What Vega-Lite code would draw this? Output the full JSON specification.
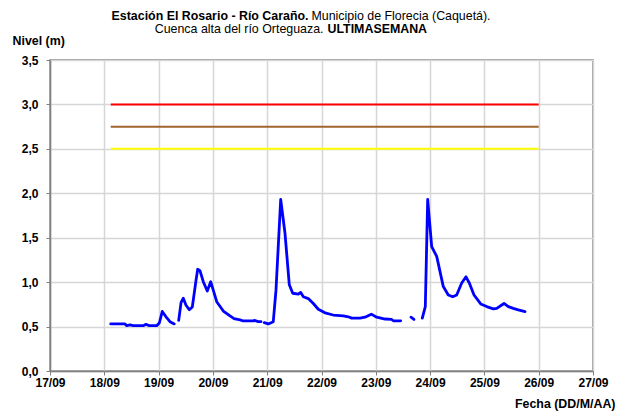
{
  "$schema": "https://vega.github.io/schema/vega-lite/v6.json",
  "width": 543,
  "height": 311,
  "autosize": "none",
  "padding": {"left": 50, "top": 60, "right": 34, "bottom": 44},
  "background": "white",
  "config": {
    "font": "Liberation Sans",
    "view": {"stroke": "#808080", "strokeWidth": 1.5},
    "axis": {"titleColor": "black", "labelColor": "black", "titleFontSize": 12.4, "labelFontSize": 12}
  },
  "datasets": {
    "nivel": [
      {"t": "2011-09-18T02:50", "v": 0.53, "seg": 1},
      {"t": "2011-09-18T09:09", "v": 0.53, "seg": 1},
      {"t": "2011-09-18T09:55", "v": 0.51, "seg": 1},
      {"t": "2011-09-18T11:21", "v": 0.52, "seg": 1},
      {"t": "2011-09-18T12:49", "v": 0.51, "seg": 1},
      {"t": "2011-09-18T17:14", "v": 0.51, "seg": 1},
      {"t": "2011-09-18T18:26", "v": 0.525, "seg": 1},
      {"t": "2011-09-18T19:53", "v": 0.51, "seg": 1},
      {"t": "2011-09-18T23:10", "v": 0.51, "seg": 1},
      {"t": "2011-09-19T00:19", "v": 0.54, "seg": 1},
      {"t": "2011-09-19T01:38", "v": 0.67, "seg": 1},
      {"t": "2011-09-19T03:16", "v": 0.61, "seg": 1},
      {"t": "2011-09-19T05:02", "v": 0.555, "seg": 1},
      {"t": "2011-09-19T06:56", "v": 0.53, "seg": 1},
      {"t": "2011-09-19T08:53", "v": 0.57, "seg": 2},
      {"t": "2011-09-19T09:55", "v": 0.77, "seg": 2},
      {"t": "2011-09-19T10:55", "v": 0.82, "seg": 2},
      {"t": "2011-09-19T12:07", "v": 0.74, "seg": 2},
      {"t": "2011-09-19T13:34", "v": 0.69, "seg": 2},
      {"t": "2011-09-19T14:54", "v": 0.72, "seg": 2},
      {"t": "2011-09-19T16:32", "v": 1.02, "seg": 2},
      {"t": "2011-09-19T17:17", "v": 1.145, "seg": 2},
      {"t": "2011-09-19T18:17", "v": 1.13, "seg": 2},
      {"t": "2011-09-19T19:45", "v": 1.005, "seg": 2},
      {"t": "2011-09-19T21:31", "v": 0.9, "seg": 2},
      {"t": "2011-09-19T23:01", "v": 1.005, "seg": 2},
      {"t": "2011-09-20T00:10", "v": 0.91, "seg": 2},
      {"t": "2011-09-20T01:41", "v": 0.78, "seg": 2},
      {"t": "2011-09-20T04:36", "v": 0.675, "seg": 2},
      {"t": "2011-09-20T07:34", "v": 0.62, "seg": 2},
      {"t": "2011-09-20T09:20", "v": 0.59, "seg": 2},
      {"t": "2011-09-20T11:59", "v": 0.575, "seg": 2},
      {"t": "2011-09-20T13:26", "v": 0.563, "seg": 2},
      {"t": "2011-09-20T17:51", "v": 0.563, "seg": 2},
      {"t": "2011-09-20T18:17", "v": 0.57, "seg": 2},
      {"t": "2011-09-20T20:04", "v": 0.555, "seg": 2},
      {"t": "2011-09-20T21:16", "v": 0.555, "seg": 2},
      {"t": "2011-09-20T22:43", "v": 0.545, "seg": 3},
      {"t": "2011-09-21T00:29", "v": 0.53, "seg": 3},
      {"t": "2011-09-21T02:41", "v": 0.555, "seg": 3},
      {"t": "2011-09-21T03:53", "v": 0.91, "seg": 3},
      {"t": "2011-09-21T05:58", "v": 1.93, "seg": 3},
      {"t": "2011-09-21T07:52", "v": 1.55, "seg": 3},
      {"t": "2011-09-21T09:46", "v": 0.97, "seg": 3},
      {"t": "2011-09-21T11:17", "v": 0.875, "seg": 3},
      {"t": "2011-09-21T13:45", "v": 0.865, "seg": 3},
      {"t": "2011-09-21T14:48", "v": 0.885, "seg": 3},
      {"t": "2011-09-21T15:58", "v": 0.835, "seg": 3},
      {"t": "2011-09-21T18:10", "v": 0.815, "seg": 3},
      {"t": "2011-09-21T20:23", "v": 0.76, "seg": 3},
      {"t": "2011-09-21T22:35", "v": 0.695, "seg": 3},
      {"t": "2011-09-22T01:32", "v": 0.655, "seg": 3},
      {"t": "2011-09-22T05:12", "v": 0.63, "seg": 3},
      {"t": "2011-09-22T09:37", "v": 0.62, "seg": 3},
      {"t": "2011-09-22T11:51", "v": 0.61, "seg": 3},
      {"t": "2011-09-22T13:20", "v": 0.595, "seg": 3},
      {"t": "2011-09-22T17:01", "v": 0.595, "seg": 3},
      {"t": "2011-09-22T19:14", "v": 0.605, "seg": 3},
      {"t": "2011-09-22T22:00", "v": 0.64, "seg": 3},
      {"t": "2011-09-23T00:24", "v": 0.605, "seg": 3},
      {"t": "2011-09-23T04:04", "v": 0.585, "seg": 3},
      {"t": "2011-09-23T07:02", "v": 0.58, "seg": 3},
      {"t": "2011-09-23T07:44", "v": 0.565, "seg": 3},
      {"t": "2011-09-23T11:00", "v": 0.565, "seg": 3},
      {"t": "2011-09-23T15:33", "v": 0.605, "seg": 4},
      {"t": "2011-09-23T16:52", "v": 0.58, "seg": 4},
      {"t": "2011-09-23T20:33", "v": 0.595, "seg": 5},
      {"t": "2011-09-23T21:53", "v": 0.725, "seg": 5},
      {"t": "2011-09-23T22:56", "v": 1.93, "seg": 5},
      {"t": "2011-09-24T00:42", "v": 1.4, "seg": 5},
      {"t": "2011-09-24T02:55", "v": 1.29, "seg": 5},
      {"t": "2011-09-24T05:50", "v": 0.95, "seg": 5},
      {"t": "2011-09-24T08:02", "v": 0.855, "seg": 5},
      {"t": "2011-09-24T09:59", "v": 0.835, "seg": 5},
      {"t": "2011-09-24T11:45", "v": 0.855, "seg": 5},
      {"t": "2011-09-24T13:58", "v": 0.99, "seg": 5},
      {"t": "2011-09-24T15:52", "v": 1.06, "seg": 5},
      {"t": "2011-09-24T17:20", "v": 0.99, "seg": 5},
      {"t": "2011-09-24T19:25", "v": 0.855, "seg": 5},
      {"t": "2011-09-24T22:22", "v": 0.755, "seg": 5},
      {"t": "2011-09-25T01:00", "v": 0.725, "seg": 5},
      {"t": "2011-09-25T03:56", "v": 0.7, "seg": 5},
      {"t": "2011-09-25T05:27", "v": 0.705, "seg": 5},
      {"t": "2011-09-25T08:40", "v": 0.76, "seg": 5},
      {"t": "2011-09-25T10:34", "v": 0.725, "seg": 5},
      {"t": "2011-09-25T12:46", "v": 0.705, "seg": 5},
      {"t": "2011-09-25T14:58", "v": 0.687, "seg": 5},
      {"t": "2011-09-25T17:57", "v": 0.668, "seg": 5}
    ],
    "umbral": [
      {"nombre": "rojo", "v": 3.0, "desde": "2011-09-18T02:50", "hasta": "2011-09-26T00:00"},
      {"nombre": "naranja", "v": 2.75, "desde": "2011-09-18T02:50", "hasta": "2011-09-26T00:00"},
      {"nombre": "amarillo", "v": 2.5, "desde": "2011-09-18T02:50", "hasta": "2011-09-26T00:00"}
    ]
  },
  "layer": [
    {
      "data": {"name": "nivel"},
      "mark": {"type": "line", "color": "#0000FF", "strokeWidth": 2.8, "strokeJoin": "round", "strokeCap": "round"},
      "encoding": {
        "x": {
          "field": "t", "type": "temporal",
          "scale": {"domain": [{"year": 2011, "month": 9, "date": 17}, {"year": 2011, "month": 9, "date": 27}]},
          "axis": {
            "format": "%d/%m",
            "tickCount": {"interval": "day", "step": 1},
            "labelFontWeight": "bold",
            "labelFlush": false,
            "labelOverlap": false,
            "labelPadding": 2,
            "tickSize": 4,
            "tickColor": "#808080",
            "domainColor": "#808080",
            "domainWidth": 1.5,
            "gridColor": "#D6D6D6",
            "gridWidth": 1.5,
            "title": "Fecha (DD/M/AA)",
            "titleFontWeight": "bold",
            "titleX": 565,
            "titleY": 36,
            "titleAlign": "right",
            "titleBaseline": "alphabetic"
          }
        },
        "y": {
          "field": "v", "type": "quantitative",
          "scale": {"domain": [0, 3.5], "nice": false, "zero": true},
          "axis": {
            "values": [0, 0.5, 1, 1.5, 2, 2.5, 3, 3.5],
            "labelExpr": "replace(format(datum.value, '.1f'), '.', ',')",
            "labelFontWeight": "bold",
            "labelPadding": 8,
            "tickSize": 4,
            "tickColor": "#808080",
            "domainColor": "#808080",
            "domainWidth": 1.5,
            "gridColor": "#D6D6D6",
            "gridWidth": 1.5,
            "title": "Nivel (m)",
            "titleFontWeight": "bold",
            "titleAngle": 0,
            "titleX": -38,
            "titleY": -16,
            "titleAlign": "left",
            "titleBaseline": "alphabetic"
          }
        },
        "detail": {"field": "seg", "type": "nominal"}
      }
    },
    {
      "data": {"name": "umbral"},
      "transform": [{"filter": "datum.nombre != 'amarillo'"}],
      "mark": {"type": "rule", "strokeWidth": 2},
      "encoding": {
        "x": {
          "field": "desde", "type": "temporal",
          "scale": {"domain": [{"year": 2011, "month": 9, "date": 17}, {"year": 2011, "month": 9, "date": 27}]},
          "axis": {
            "orient": "top", "labels": false, "ticks": false, "domain": false, "grid": false,
            "title": "Municipio de Florecia (Caquetá).",
            "titleFontWeight": "normal",
            "titleX": 261, "titleY": -41, "titleAlign": "left", "titleBaseline": "alphabetic"
          }
        },
        "x2": {"field": "hasta"},
        "y": {
          "field": "v", "type": "quantitative",
          "scale": {"domain": [0, 3.5], "nice": false},
          "axis": {
            "orient": "right", "labels": false, "ticks": false, "domain": false, "grid": false,
            "title": "Cuenca alta del río Orteguaza.",
            "titleFontWeight": "normal",
            "titleAngle": 0,
            "titleX": -270, "titleY": -28, "titleAlign": "right", "titleBaseline": "alphabetic"
          }
        },
        "color": {
          "field": "nombre", "type": "nominal", "legend": null,
          "scale": {"domain": ["rojo", "naranja", "amarillo"], "range": ["#FF0000", "#A0642D", "#FFFF00"]}
        }
      }
    },
    {
      "data": {"name": "umbral"},
      "transform": [{"filter": "datum.nombre == 'amarillo'"}],
      "mark": {"type": "rule", "strokeWidth": 2},
      "encoding": {
        "x": {
          "field": "desde", "type": "temporal",
          "scale": {"domain": [{"year": 2011, "month": 9, "date": 17}, {"year": 2011, "month": 9, "date": 27}]},
          "axis": {
            "orient": "top", "labels": false, "ticks": false, "domain": false, "grid": false,
            "title": "Estación El Rosario - Río Caraño.",
            "titleFontWeight": "bold",
            "titleX": 258, "titleY": -41, "titleAlign": "right", "titleBaseline": "alphabetic"
          }
        },
        "x2": {"field": "hasta"},
        "y": {
          "field": "v", "type": "quantitative",
          "scale": {"domain": [0, 3.5], "nice": false},
          "axis": {
            "orient": "left", "labels": false, "ticks": false, "domain": false, "grid": false,
            "title": "ULTIMASEMANA",
            "titleFontWeight": "bold",
            "titleAngle": 0,
            "titleX": 277, "titleY": -28, "titleAlign": "left", "titleBaseline": "alphabetic"
          }
        },
        "color": {
          "field": "nombre", "type": "nominal", "legend": null,
          "scale": {"domain": ["rojo", "naranja", "amarillo"], "range": ["#FF0000", "#A0642D", "#FFFF00"]}
        }
      }
    }
  ],
  "resolve": {"axis": {"x": "independent", "y": "independent"}}
}
